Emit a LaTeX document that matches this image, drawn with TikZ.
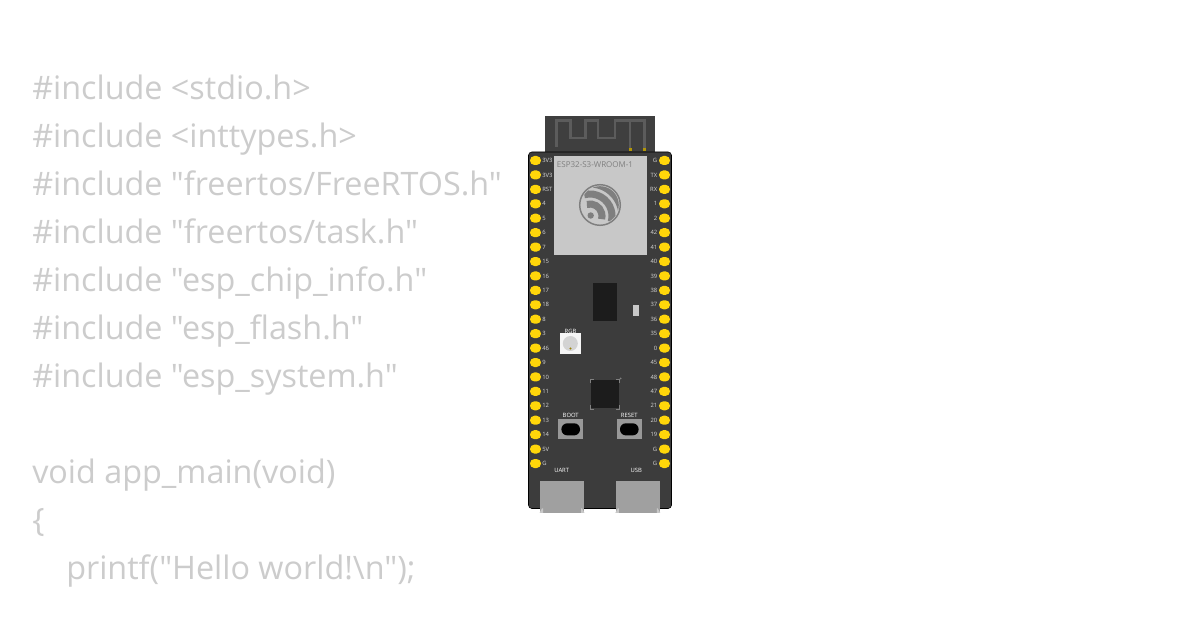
\documentclass[tikz,border=0pt]{standalone}
\usepackage{fontspec}
\setmainfont{Open Sans}[Ligatures=TeXOff]
\usepackage{tikz}
\usetikzlibrary{calc}
\definecolor{codegray}{HTML}{CCCCCC}
\definecolor{boardgray}{HTML}{3C3C3C}
\definecolor{antgray}{HTML}{3F3F3F}
\definecolor{tracegray}{HTML}{5C5C5C}
\definecolor{modgray}{HTML}{C8C8C8}
\definecolor{logogray}{HTML}{7F7F7F}
\definecolor{pinyellow}{HTML}{FFD60A}
\definecolor{chipblack}{HTML}{1C1C1C}
\definecolor{usbgray}{HTML}{A0A0A0}
\definecolor{labelgray}{HTML}{D8D8D8}
\tikzset{
    codeline/.style={anchor=base west,text=codegray,font=\fontsize{24.25}{24}\selectfont,inner sep=0pt},
    pinhole/.style={fill=pinyellow,draw=none,rounded corners=3.3pt},
    pinlabel/.style={text=labelgray,font=\fontsize{4.4}{5}\selectfont,inner sep=0pt},
    boardlabel/.style={text=white,font=\fontsize{4.4}{5}\selectfont,inner sep=0pt},
    pushbtn/.style={fill=usbgray!95!black,draw=none},
    antenna/.style={tracegray,line width=2pt},
    logoarc/.style={logogray,line width=5.3pt},
    chiptick/.style={gray,line width=0.4pt},
}
\begin{document}
\begin{tikzpicture}[x=0.75pt,y=-0.75pt]
            \useasboundingbox (0,0) rectangle (1200,630);
            \fill[white] (0,0) rectangle (1200,630);

            % source code
            \foreach \ypos/\codetext in {100/{\#include <stdio.h>},148/{\#include <inttypes.h>},196/{\#include "freertos/FreeRTOS.h"},244/{\#include "freertos/task.h"},292/{\#include "esp\_chip\_info.h"},340/{\#include "esp\_flash.h"},388/{\#include "esp\_system.h"},484/{void app\_main(void)},532/{\{}}
                \node[codeline] at (32,\ypos) {\codetext};
            \node[codeline] at (66,580) {printf("Hello world!\textbackslash n");};

            % board
            \fill[antgray] (545,116) rectangle (655,153);
            \draw[antenna] (556.5,147)--(556.5,120.5)--(570.7,120.5)--(570.7,138)--(585.5,138)--(585.5,120.5)--(598,120.5)--(598,138)--(615,138)--(615,120.5)--(644.5,120.5)--(644.5,150);
            \draw[antenna] (630,120.5)--(630,150);
            \fill[pinyellow!70!black] (628.5,148.5) rectangle (631.5,151.5);
            \fill[pinyellow!70!black] (643,148.5) rectangle (646,151.5);
            \fill[boardgray,draw=black,line width=0.4pt,rounded corners=2.5pt] (528.5,152) rectangle (671.5,508.5);

            % module
            \fill[modgray] (554,156) rectangle (646.7,255.5);
            \node[text=logogray,font=\fontsize{6}{7}\selectfont,inner sep=0pt] (modname) at (595,165) {ESP32-S3-WROOM-1};
            \draw[logogray,line width=1.1pt] (600,205) circle[radius=20.3];
            \begin{scope}
                \clip (600,205) circle[radius=18.8];
                \draw[logoarc] (590,216) ++(-105:32) arc[start angle=-105,end angle=15,radius=32];
                \draw[logoarc] (590,216) ++(-105:22) arc[start angle=-105,end angle=15,radius=22];
                \draw[logoarc] (590,216) ++(-105:12) arc[start angle=-105,end angle=15,radius=12];
            \end{scope}
            \fill[logogray] (590.7,215.5) circle[radius=3.2];

            % pins
            \foreach \idx/\leftname/\rightname in {0/3V3/G,1/3V3/TX,2/RST/RX,3/4/1,4/5/2,5/6/42,6/7/41,7/15/40,8/16/39,9/17/38,10/18/37,11/8/36,12/3/35,13/46/0,14/9/45,15/10/48,16/11/47,17/12/21,18/13/20,19/14/19,20/5V/G,21/G/G}{
                \pgfmathsetmacro{\ypos}{160.5+14.43*\idx}
                \fill[pinhole] (530,\ypos-4.5) rectangle (541,\ypos+4.5);
                \fill[pinhole] (659,\ypos-4.5) rectangle (670,\ypos+4.5);
                \node[pinlabel,anchor=west] at (542,\ypos) {\leftname};
                \node[pinlabel,anchor=east] at (657.5,\ypos) {\rightname};
            }

            % flash chip and led
            \fill[chipblack] (592.7,283) rectangle (616.7,321);
            \fill[modgray] (632.8,305) rectangle (639.3,316);

            % rgb led
            \node[boardlabel] (rgblabel) at (570.5,331) {RGB};
            \fill[white!96!black] (560,333.5) rectangle (581,354);
            \fill[modgray!80!white] (570.3,343.5) circle[radius=7.5];
            \fill[pinyellow!60!black] (570.5,348.5) circle[radius=1.2];

            % main chip
            \fill[chipblack] (591,380) rectangle (619,408.5);
            \draw[chiptick] (590.5,383)--(590.5,379.5)--(594,379.5);
            \draw[chiptick] (616,379.5)--(619.5,379.5)--(619.5,383);
            \draw[chiptick] (590.5,405.5)--(590.5,409)--(594,409);
            \draw[chiptick] (616,409)--(619.5,409)--(619.5,405.5);
            \fill[gray] (620.5,378.5) circle[radius=1];

            % buttons
            \foreach \xpos/\btnname in {570.7/BOOT,629.3/RESET}{
                \node[boardlabel] at (\xpos,415.7) {\btnname};
                \fill[pushbtn] (\xpos-12.3,419.3) rectangle (\xpos+12.3,439);
                \fill[black,rounded corners=4.4pt] (\xpos-9.3,423.3) rectangle (\xpos+9.3,435.4);
            }

            % connectors
            \foreach \xpos/\usbname/\namex in {562/UART/561.7,637.8/USB/636.3}{
                \node[boardlabel] at (\namex,470) {\usbname};
                \fill[usbgray] (\xpos-22,481) rectangle (\xpos+22,513);
                \fill[modgray] (\xpos-22.5,513)--(\xpos-20,508.5)--(\xpos-19,508.5)--(\xpos-19,513)--cycle;
                \fill[modgray] (\xpos+22.5,513)--(\xpos+20,508.5)--(\xpos+19,508.5)--(\xpos+19,513)--cycle;
            }
\end{tikzpicture}
\end{document}
